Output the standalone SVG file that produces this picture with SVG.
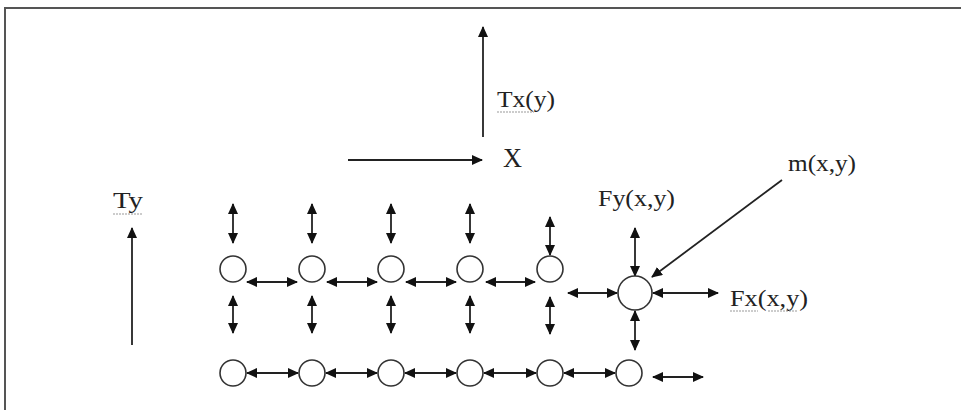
<svg xmlns="http://www.w3.org/2000/svg" width="961" height="410" viewBox="0 0 961 410">
<style>
.ln{stroke:#222;stroke-width:1.8;fill:none}
.dbl{marker-start:url(#ah);marker-end:url(#ah)}
.one{marker-end:url(#ah)}
.nd{fill:#fff;stroke:#333;stroke-width:1.6}
.t{font-family:"Liberation Serif","Times New Roman",serif;font-size:24px;fill:#222}
.ul{stroke:#999;stroke-width:1;stroke-dasharray:2 1}
</style>
<defs>
<marker id="ah" markerUnits="userSpaceOnUse" markerWidth="11" markerHeight="10" refX="10" refY="5" orient="auto-start-reverse" viewBox="0 0 11 10">
<path d="M0,0 L11,5 L0,10 z" fill="#111"/>
</marker>
</defs>
<rect width="961" height="410" fill="#fff"/>
<g id="frame">
<path d="M5,410 L5,8 L961,8" stroke="#555" stroke-width="2" fill="none"/>
</g>
<g id="connectors">
<line class="ln one" x1="483" y1="137" x2="483" y2="27"/>
<line class="ln one" x1="348" y1="160" x2="482" y2="160"/>
<line class="ln one" x1="132" y1="345" x2="132" y2="228"/>
<line class="ln one" x1="782" y1="180" x2="652" y2="277"/>
<line class="ln dbl" x1="233" y1="204" x2="233" y2="243"/>
<line class="ln dbl" x1="312" y1="204" x2="312" y2="243"/>
<line class="ln dbl" x1="391" y1="204" x2="391" y2="243"/>
<line class="ln dbl" x1="470" y1="204" x2="470" y2="243"/>
<line class="ln dbl" x1="550" y1="217" x2="550" y2="255"/>
<line class="ln dbl" x1="233" y1="296" x2="233" y2="333"/>
<line class="ln dbl" x1="312" y1="296" x2="312" y2="333"/>
<line class="ln dbl" x1="391" y1="296" x2="391" y2="333"/>
<line class="ln dbl" x1="470" y1="296" x2="470" y2="333"/>
<line class="ln dbl" x1="550" y1="297" x2="550" y2="334"/>
<line class="ln dbl" x1="247" y1="282" x2="297" y2="282"/>
<line class="ln dbl" x1="327" y1="282" x2="377" y2="282"/>
<line class="ln dbl" x1="406" y1="282" x2="456" y2="282"/>
<line class="ln dbl" x1="486" y1="282" x2="535" y2="282"/>
<line class="ln dbl" x1="247" y1="373" x2="298" y2="373"/>
<line class="ln dbl" x1="326" y1="373" x2="377" y2="373"/>
<line class="ln dbl" x1="405" y1="373" x2="456" y2="373"/>
<line class="ln dbl" x1="484" y1="373" x2="536" y2="373"/>
<line class="ln dbl" x1="564" y1="373" x2="615" y2="373"/>
<line class="ln dbl" x1="653" y1="377" x2="703" y2="377"/>
<line class="ln dbl" x1="568" y1="293" x2="617" y2="293"/>
<line class="ln dbl" x1="653" y1="293" x2="718" y2="293"/>
<line class="ln dbl" x1="635" y1="228" x2="635" y2="276"/>
<line class="ln dbl" x1="635" y1="311" x2="635" y2="350"/>
</g>
<g id="n-top1"><circle class="nd" cx="233" cy="269" r="13"/></g>
<g id="n-top2"><circle class="nd" cx="312" cy="269" r="13"/></g>
<g id="n-top3"><circle class="nd" cx="391" cy="269" r="13"/></g>
<g id="n-top4"><circle class="nd" cx="470" cy="269" r="13"/></g>
<g id="n-top5"><circle class="nd" cx="550" cy="269" r="13"/></g>
<g id="n-bot1"><circle class="nd" cx="233" cy="373" r="13"/></g>
<g id="n-bot2"><circle class="nd" cx="312" cy="373" r="13"/></g>
<g id="n-bot3"><circle class="nd" cx="391" cy="373" r="13"/></g>
<g id="n-bot4"><circle class="nd" cx="470" cy="373" r="13"/></g>
<g id="n-bot5"><circle class="nd" cx="550" cy="373" r="13"/></g>
<g id="n-bot6"><circle class="nd" cx="629" cy="373" r="13"/></g>
<g id="n-mass"><circle class="nd" cx="635" cy="293" r="17"/></g>
<g id="labels">
<text class="t" x="497" y="107" textLength="58" lengthAdjust="spacingAndGlyphs">Tx(y)</text>
<line class="ul" x1="497" y1="112" x2="534" y2="112"/>
<text class="t" x="503" y="167" style="font-size:28px" textLength="19" lengthAdjust="spacingAndGlyphs">X</text>
<text class="t" x="113" y="208" textLength="30" lengthAdjust="spacingAndGlyphs">Ty</text>
<line class="ul" x1="113" y1="214" x2="143" y2="214"/>
<text class="t" x="788" y="171" textLength="68" lengthAdjust="spacingAndGlyphs">m(x,y)</text>
<text class="t" x="598" y="206" textLength="77" lengthAdjust="spacingAndGlyphs">Fy(x,y)</text>
<text class="t" x="730" y="306" textLength="78" lengthAdjust="spacingAndGlyphs">Fx(x,y)</text>
<line class="ul" x1="730" y1="311" x2="758" y2="311"/>
<line class="ul" x1="768" y1="311" x2="797" y2="311"/>
</g>
</svg>
